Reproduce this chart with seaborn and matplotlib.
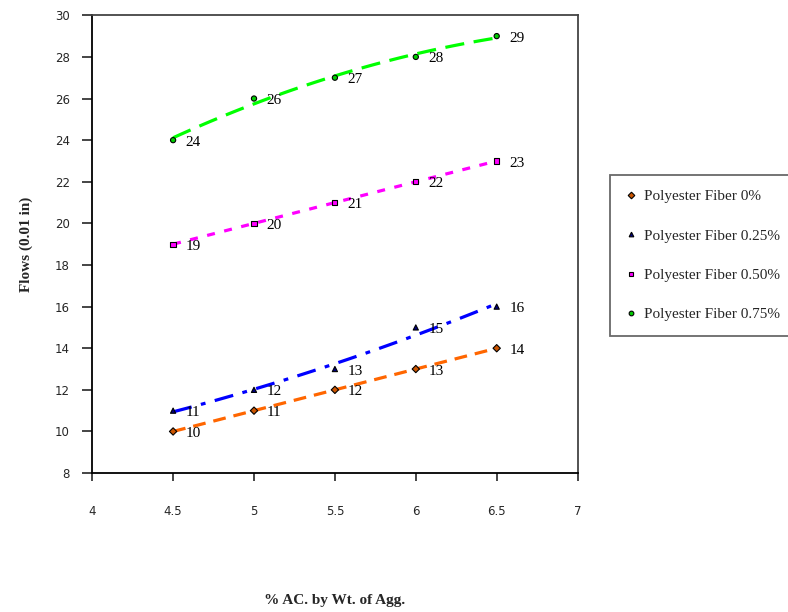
import pandas as pd
import matplotlib
matplotlib.use('Agg')
import matplotlib.pyplot as plt
import numpy as np
import seaborn as sns

# dados
ac = [4.5, 5, 5.5, 6, 6.5]
fibra_0 = [10, 11, 12, 13, 14]
fibra_025 = [11, 12, 13, 15, 16]
fibra_050 = [19, 20, 21, 22, 23]
fibra_075 = [24, 26, 27, 28, 29]
nomes = ['Polyester Fiber 0%', 'Polyester Fiber 0.25%',
         'Polyester Fiber 0.50%', 'Polyester Fiber 0.75%']

series = [fibra_0, fibra_025, fibra_050, fibra_075]
df = pd.DataFrame({
    'ac': ac * 4,
    'flow': fibra_0 + fibra_025 + fibra_050 + fibra_075,
    'serie': [n for n in nomes for _ in ac],
})

sns.set_style('white')
serif = ['Liberation Serif', 'DejaVu Serif']

fig = plt.figure(figsize=(7.88, 6.12), dpi=100)
ax = fig.add_axes([0.117, 0.227, 0.616, 0.748])

cores_linha = ['#FF6600', '#0000FF', '#FF00FF', '#00FF00']
cores_marca = ['#CC5500', '#000080', '#FF00FF', '#00CC00']
marcas = ['D', '^', 's', 'o']
tracos = [(4, 2.5), (6, 3, 1.5, 3), (2.5, 3), (6, 3)]

# linhas de tendencia (polinomio de 2a ordem, como no Excel)
for i, nome in enumerate(nomes):
    sub = df[df['serie'] == nome]
    sns.regplot(x='ac', y='flow', data=sub, order=2, ci=None, scatter=False,
                truncate=True, ax=ax,
                line_kws=dict(color=cores_linha[i], lw=2.3, dashes=tracos[i]))

# pontos
sns.scatterplot(x='ac', y='flow', data=df, hue='serie', style='serie',
                palette=dict(zip(nomes, cores_marca)),
                markers=dict(zip(nomes, marcas)), s=14,
                edgecolor='black', linewidth=0.8, ax=ax, zorder=5, legend=True)

# rotulos de dados
for ys in series:
    for x, y in zip(ac, ys):
        ax.annotate(str(y), (x, y), xytext=(9, -4), textcoords='offset points',
                    fontsize=11, family=serif, color='black')

ax.set_xlim(4, 7)
ax.set_ylim(8, 30)
ax.set_xticks(np.arange(4, 7.01, 0.5))
ax.set_xticklabels(['4', '4.5', '5', '5.5', '6', '6.5', '7'])
ax.set_yticks(np.arange(8, 31, 2))
ax.tick_params(axis='x', direction='out', length=6, width=1.2, pad=17,
               labelsize=8.5, bottom=True)
ax.tick_params(axis='y', direction='out', length=7, width=1.2, pad=9,
               labelsize=8.5, left=True)
for lado in ['left', 'bottom']:
    ax.spines[lado].set_color('black')
    ax.spines[lado].set_linewidth(1.3)
for lado in ['top', 'right']:
    ax.spines[lado].set_color('#444444')
    ax.spines[lado].set_linewidth(1.3)

ax.set_xlabel('% AC. by Wt. of Agg.', fontsize=11, fontweight='bold',
              family=serif, labelpad=55)
ax.set_ylabel('Flows (0.01 in)', fontsize=11, fontweight='bold',
              family=serif, labelpad=16)

# legenda
h, l = ax.get_legend_handles_labels()
ax.legend(h, l, loc='upper left', bbox_to_anchor=(0.774, 0.714),
          bbox_transform=fig.transFigure, borderaxespad=0, frameon=True,
          fancybox=False, edgecolor='#444444', labelspacing=1.68,
          handletextpad=0.5, borderpad=0.95, handlelength=0.8,
          markerscale=0.9, prop={'family': serif, 'size': 11})
ax.get_legend().get_frame().set_linewidth(1.3)

fig.savefig('out.png', dpi=100)
